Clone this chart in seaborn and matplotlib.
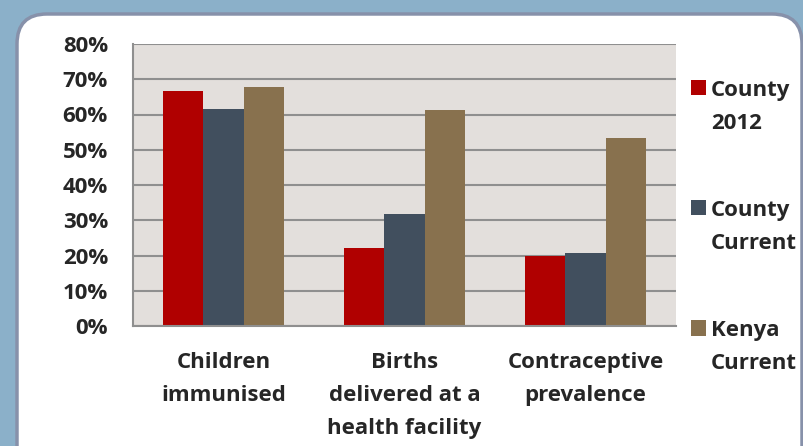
import pandas as pd
import matplotlib.pyplot as plt
import seaborn as sns
from matplotlib.patches import FancyBboxPatch
from matplotlib.transforms import IdentityTransform

# data
indicators = ["Children\nimmunised", "Births\ndelivered at a\nhealth facility", "Contraceptive\nprevalence"]
county_2012 = [0.668, 0.222, 0.198]
county_current = [0.616, 0.317, 0.206]
kenya_current = [0.677, 0.614, 0.534]
series = ["County 2012", "County Current", "Kenya Current"]
legend_labels = ["County\n2012", "County\nCurrent", "Kenya\nCurrent"]
yticks = [0, 0.1, 0.2, 0.3, 0.4, 0.5, 0.6, 0.7, 0.8]

df = pd.DataFrame({"indicator": indicators, "County 2012": county_2012,
                   "County Current": county_current, "Kenya Current": kenya_current})
long_df = pd.melt(df, id_vars=["indicator"], value_vars=series, var_name="series", value_name="value")

#colors
colors = ["#b00000", "#414f5e", "#88714e"]
sns.set_theme(style="white")
plt.rcParams["font.family"] = ["Open Sans", "DejaVu Sans"]
plt.rcParams["font.weight"] = "bold"
FS = 16

fig = plt.figure(figsize=(8.04, 4.46), dpi=100)
fig.patch.set_facecolor("#8bb0c9")
# white rounded panel
panel = FancyBboxPatch((17, -40), 785, 472, boxstyle="round,pad=0,rounding_size=30",
                       transform=IdentityTransform(), facecolor="white",
                       edgecolor="#8791aa", linewidth=2.5, zorder=-5)
fig.add_artist(panel)

ax = fig.add_axes([133 / 804, 120 / 446, 543 / 804, 282 / 446])
sns.barplot(data=long_df, x="indicator", y="value", hue="series", hue_order=series,
            palette=colors, width=0.67, saturation=1, linewidth=0, ax=ax)
ax.set_facecolor("#e3dfdc")
ax.set_ylim(0, 0.8)
ax.set_xlim(-0.5, 2.5)
ax.set_yticks(yticks)
ax.set_yticklabels([f"{int(round(t * 100))}%" for t in yticks], fontsize=FS, fontweight="bold")
ax.yaxis.grid(True, color="#8f8f8f", linewidth=1.5)
ax.set_axisbelow(True)
ax.set_xlabel("")
ax.set_ylabel("")
ax.set_xticks([0, 1, 2])
ax.set_xticklabels(indicators, fontsize=FS, fontweight="bold", linespacing=1.75, va="top")
ax.tick_params(axis="x", which="major", length=0, pad=19)
ax.set_xticks([-0.5, 0.5, 1.5, 2.5], minor=True)
ax.tick_params(axis="x", which="minor", length=8, width=1.5, color="#8f8f8f", direction="out")
ax.tick_params(axis="y", length=8, width=1.5, color="#8f8f8f", direction="out", pad=10)
for s in ["top", "right"]:
    ax.spines[s].set_visible(False)
for s in ["left", "bottom"]:
    ax.spines[s].set_color("#8f8f8f")
    ax.spines[s].set_linewidth(1.5)

handles, _ = ax.get_legend_handles_labels()
ax.get_legend().remove()
leg = fig.legend(handles, legend_labels, loc="upper left", bbox_to_anchor=(691 / 804, 1 - 80 / 446),
                 frameon=False, prop={"size": FS, "weight": "bold"}, handlelength=0.68,
                 handleheight=0.68, handletextpad=0.22, labelspacing=2.98, borderpad=0,
                 borderaxespad=0)
for t in leg.get_texts():
    t.set_linespacing(1.75)
# put each square next to the first line of its label
for row in leg._legend_handle_box.get_children():
    for hp in row.get_children():
        hp.align = "top"

#save
plt.savefig("out.png", dpi=100)
